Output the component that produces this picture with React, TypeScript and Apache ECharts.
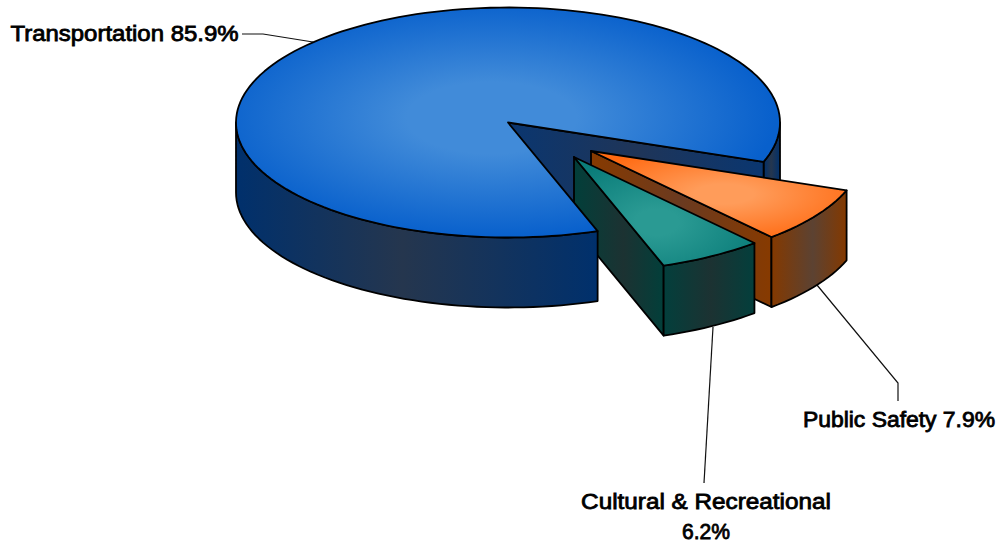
import React, { useEffect, useRef } from "react";
import * as echarts from "echarts";

const names = ["Public Safety", "Cultural & Recreational", "Transportation"];
const percents = [7.9, 6.2, 85.9];
const labelLines = [["Public Safety 7.9%"], ["Cultural & Recreational", "6.2%"], ["Transportation 85.9%"]];

// layout of the projected pie
const START = 20, RX = 272, RY = 115, DEPTH = 70;
const offsets = [[591, 151], [574, 157], [508, 122.5]];
const labelPos = [[899, 420], [706, 501.5], [124.5, 33.5]];
const labelStretch = [[1.065], [1.13, 0.98], [1.115]];
const leaders = [
  [[817, 285], [898, 383], [898, 401]],
  [[713, 327], [704, 483]],
  [[242, 34], [263, 34], [313, 42]],
];

const gradH = (a: string, b: string, p = 0.5) => ({
  type: "linear", x: 0, y: 0, x2: 1, y2: 0,
  colorStops: [{ offset: 0, color: a }, { offset: p, color: b }, { offset: 1, color: a }],
});
const gradR = (c: string, e: string, x = 0.5, y = 0.5, r = 0.5, hold = 0.25) => ({
  type: "radial", x, y, r,
  colorStops: [{ offset: 0, color: c }, { offset: hold, color: c }, { offset: 1, color: e }],
});
const fills = [
  {
    top: gradR("#ff9c5a", "#ff6a12", 0.52, 0.5, 0.58, 0.2),
    wall: gradH("#843900", "#5c4232", 0.55),
    face: gradH("#873a00", "#6a3a20", 0.5),
  },
  {
    top: gradR("#2a9a93", "#0b7d7a", 0.46, 0.6, 0.6, 0.2),
    wall: gradH("#033f3c", "#1c3232", 0.52),
    face: gradH("#023f3a", "#1c3232", 0.55),
  },
  {
    top: gradR("#418bd9", "#0860cc", 0.47, 0.48, 0.52, 0.3),
    wall: gradH("#00306c", "#25364e", 0.46),
    face: gradH("#0a3670", "#1f3558", 0.5),
  },
];

const total = percents.reduce((a, b) => a + b, 0);
const startAngles: number[] = [];
percents.reduce((acc, v, i) => { startAngles[i] = acc; return acc + (v / total) * 360; }, START);

function arc(c: number[], a0: number, a1: number, dy = 0) {
  const n = Math.max(2, Math.ceil(Math.abs(a1 - a0) / 2));
  const pts: number[][] = [];
  for (let i = 0; i <= n; i++) {
    const t = ((a0 + ((a1 - a0) * i) / n) * Math.PI) / 180;
    pts.push([c[0] + RX * Math.cos(t), c[1] + RY * Math.sin(t) + dy]);
  }
  return pts;
}

const stroke = { stroke: "#000", lineWidth: 1.8, lineJoin: "round" };
const poly = (points: number[][], fill: any) => ({
  type: "polygon", shape: { points }, style: { fill, ...stroke },
});
const wall = (c: number[], a0: number, a1: number, fill: any) =>
  poly([...arc(c, a0, a1), ...arc(c, a1, a0, DEPTH)], fill);
const face = (c: number[], a: number, fill: any) => {
  const e = arc(c, a, a)[0];
  return poly([c, e, [e[0], e[1] + DEPTH], [c[0], c[1] + DEPTH]], fill);
};

// Painting order: the back of the big slice, the two exploded slices, the front of the big slice.
const layers = [
  { slice: 2, part: "back" },
  { slice: 0, part: "whole" },
  { slice: 1, part: "whole" },
  { slice: 2, part: "front" },
];

function renderItem(_: any, api: any) {
  const i = api.value(0);
  const part = layers[api.value(1)].part;
  const c = offsets[i];
  const a0 = startAngles[i];
  const a1 = a0 + (percents[i] / total) * 360;
  const f = fills[i];
  const top = poly([c, ...arc(c, a0, a1)], f.top);
  let children: any[];
  if (part === "back") {
    children = [wall(c, 360, 360 + START, f.wall), face(c, a1, f.face)];
  } else if (part === "front") {
    children = [wall(c, a0, 180, f.wall), top];
  } else {
    children = [face(c, a1, f.face), wall(c, a0, a1, f.wall), top];
  }
  return { type: "group", children };
}

export default function App() {
  const ref = useRef<HTMLDivElement>(null);
  useEffect(() => {
    const chart = echarts.init(ref.current!, null, { renderer: "svg" });
    const graphic: any[] = [];
    leaders.forEach((pts) =>
      graphic.push({
        type: "polyline", z: 1,
        shape: { points: pts },
        style: { stroke: "#111", lineWidth: 1.2, fill: "none" },
      })
    );
    labelLines.forEach((lines, i) =>
      lines.forEach((text, j) =>
        graphic.push({
          type: "text", z: 5,
          x: labelPos[i][0], y: labelPos[i][1] + j * 30,
          scaleX: labelStretch[i][j],
          style: {
            text, fill: "#000", stroke: "#000", lineWidth: 0.8, align: "center", verticalAlign: "middle",
            font: "21.5px 'Liberation Sans', Arial, sans-serif",
          },
        })
      )
    );
    chart.setOption({
      animation: false,
      backgroundColor: "#fff",
      tooltip: { show: false },
      graphic,
      series: [
        {
          type: "custom",
          name: "share",
          coordinateSystem: "none",
          z: 3,
          silent: true,
          renderItem,
          clip: false,
          data: layers.map((l, k) => ({ name: names[l.slice], value: [l.slice, k, percents[l.slice]] })),
        },
      ],
    });
    return () => chart.dispose();
  }, []);
  return <div ref={ref} style={{ position: "absolute", left: 0, top: 0, width: 998, height: 543 }} />;
}
